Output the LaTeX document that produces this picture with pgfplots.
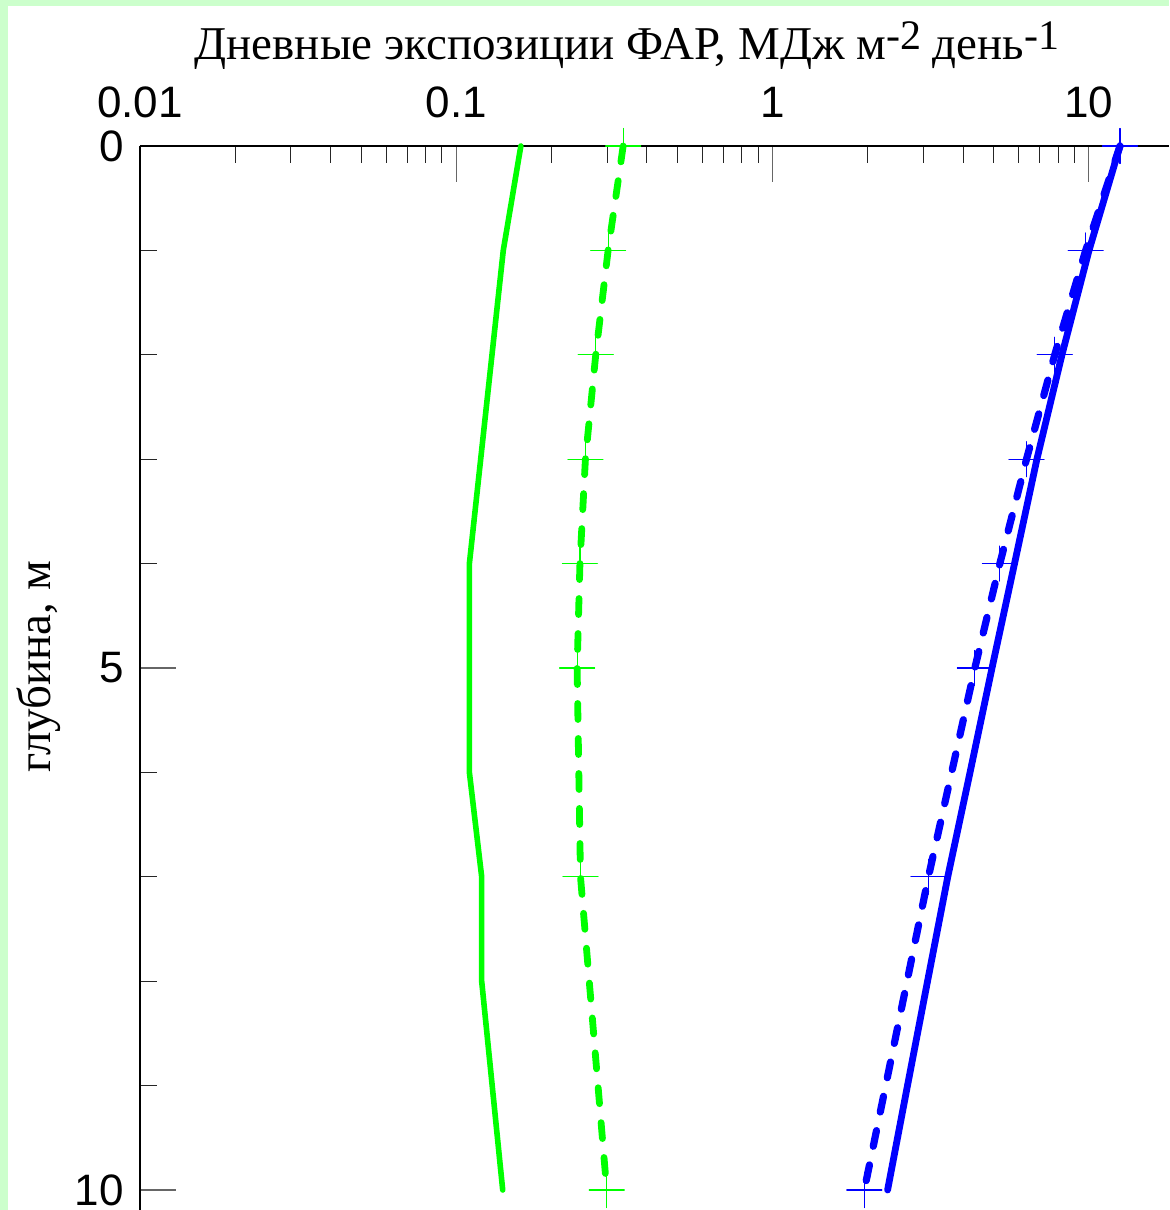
\documentclass[border=0pt]{standalone}
\usepackage{fontspec}
\setmainfont{Liberation Serif}
\setsansfont{Liberation Sans}
\usepackage{pgfplots}
\pgfplotsset{compat=1.18}
\definecolor{bggreen}{RGB}{204,255,204}
\definecolor{lgreen}{RGB}{0,255,0}
\definecolor{dblue}{RGB}{0,0,255}
\begin{document}
\begin{tikzpicture}[x=1pt,y=1pt]
\useasboundingbox (0,0) rectangle (584.5,605);
\fill[bggreen] (0,0) rectangle (584.5,605);
\fill[white] (4,0) rectangle (584.5,602);
\begin{axis}[
  at={(70pt,0pt)}, anchor=south west,
  scale only axis, width=514.5pt, height=532pt,
  xmode=log, xmin=0.01, xmax=17.92,
  ymin=-10.1916, ymax=0,
  axis x line=top, axis y line=left,
  axis line style={-, line width=0.75pt, black},
  tick align=inside,
  xtick={0.01,0.1,1,10}, xticklabels={0.01,0.1,1,10},
  minor xtick={0.02,0.03,0.04,0.05,0.06,0.07,0.08,0.09,0.2,0.3,0.4,0.5,0.6,0.7,0.8,0.9,2,3,4,5,6,7,8,9},
  ytick={-10,-5,0}, yticklabels={10,5,0},
  minor ytick={-9,-8,-7,-6,-4,-3,-2,-1},
  major tick length=18pt, minor tick length=8.75pt,
  every major tick/.append style={black!60, line width=0.6pt},
  every minor tick/.append style={black!85, line width=0.5pt},
  xticklabel style={font=\sffamily\fontsize{22}{22}\selectfont, anchor=base, yshift=14pt, inner sep=0pt},
  yticklabel style={font=\sffamily\fontsize{22}{22}\selectfont, anchor=east, xshift=-8pt, inner sep=0pt},
  clip=false,
]
\addplot[lgreen, line width=2.8pt, line join=round, line cap=round] coordinates {
(0.160,0) (0.1408,-1) (0.110,-4) (0.110,-5) (0.110,-6) (0.1203,-7) (0.1203,-8) (0.1402,-10)};
\addplot[lgreen, line width=3.4pt, line cap=round, dash pattern=on 8pt off 9.5pt,
  mark=+, mark size=8.75pt, mark options={solid, line width=0.6pt}] coordinates {
(0.337,0) (0.302,-1) (0.276,-2) (0.256,-3) (0.246,-4) (0.241,-5) (0.247,-7) (0.299,-10)};
\addplot[dblue, line width=3.4pt, line join=round, line cap=round] coordinates {
(12.54,0) (10.01,-1) (8.22,-2) (6.85,-3) (5.82,-4) (4.94,-5) (4.21,-6) (3.58,-7) (3.09,-8) (2.67,-9) (2.31,-10)};
\addplot[dblue, line width=3.6pt, line cap=round, dash pattern=on 8pt off 9.5pt,
  mark=+, mark size=8.75pt, mark options={solid, line width=0.6pt}] coordinates {
(12.54,0) (9.77,-1) (7.80,-2) (6.35,-3) (5.23,-4) (4.36,-5) (3.11,-7) (1.95,-10)};
\end{axis}
\node[font=\fontsize{23.5}{23.5}\selectfont, anchor=base] at (313.5,575)
  {Дневные экспозиции ФАР, МДж м\raisebox{5pt}{\fontsize{21}{21}\selectfont -2} день\raisebox{5pt}{\fontsize{21}{21}\selectfont -1}};
\node[font=\fontsize{23.5}{23.5}\selectfont, rotate=90, anchor=base] at (25,271.5) {глубина, м};
\end{tikzpicture}
\end{document}
